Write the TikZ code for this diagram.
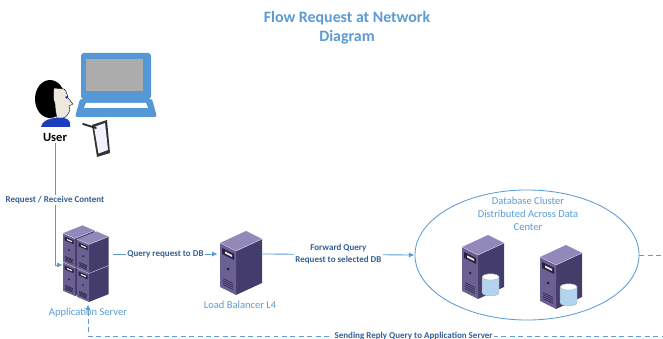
\documentclass[tikz,border=0pt]{standalone}
\usepackage{fontspec}
\setmainfont{Carlito}
\usetikzlibrary{positioning,shapes.geometric,arrows.meta,calc}

\definecolor{lineblue}{RGB}{91,155,213}
\definecolor{textblue}{RGB}{52,96,148}
\definecolor{lapblue}{RGB}{86,152,214}
\definecolor{skin}{RGB}{238,232,220}
\definecolor{shirt}{RGB}{30,60,190}
\definecolor{srvfront}{RGB}{106,96,146}
\definecolor{srvside}{RGB}{68,60,106}
\definecolor{srvtop}{RGB}{146,136,186}
\definecolor{srvdark}{RGB}{40,34,64}
\definecolor{dbfill}{RGB}{178,212,238}

\tikzset{
  tower/.pic={
    \fill[srvside] (0,0) -- (26,-12) -- (26,-56) -- (0,-44) -- cycle;
    \fill[srvfront] (0,0) -- (-16,-8) -- (-16,-52) -- (0,-44) -- cycle;
    \fill[srvtop] (0,-44) -- (-16,-52) -- (10,-64) -- (26,-56) -- cycle;
    \draw[white!60!srvtop, line width=0.3pt] (-16,-52) -- (0,-44) -- (26,-56);
    \fill[srvdark] (-2,-35) -- (-14,-41) -- (-14,-47) -- (-2,-41) -- cycle;
    \fill[white!85!srvfront] (-4,-38) -- (-11,-41.5) -- (-11,-43.5) -- (-4,-40) -- cycle;
    \fill[srvdark] (-8,-26) circle (1.5);
    \foreach \v in {4,6,8,10}
      \draw[srvdark, line width=0.4pt] (-3,{-1.5-\v}) -- (-13,{-6.5-\v});
  },
  dbase/.pic={
    \pic {tower};
    \filldraw[fill=dbfill, draw=gray!60, line width=0.3pt] (4,-21) -- (4,-6)
      arc[start angle=180, end angle=0, x radius=8, y radius=3] -- (20,-21) -- cycle;
    \filldraw[fill=white, draw=gray!60, line width=0.3pt] (12,-21) ellipse [x radius=8, y radius=3];
  }
}

\begin{document}
\begin{tikzpicture}[x=0.025cm, y=-0.025cm,
    flow/.style={draw=lineblue, line width=0.6pt, -{Latex[length=4pt,width=3.5pt]}},
    reply/.style={flow, dash pattern=on 3.5pt off 2.5pt},
    srv/.style={inner sep=0pt},
    srvname/.style={text=lineblue, font=\fontsize{7.5}{9}\selectfont, inner sep=1pt},
    lbl/.style={text=textblue, fill=white, font=\bfseries\fontsize{6.4}{8.5}\selectfont, inner sep=1pt, align=center}]
  \useasboundingbox (0,0) rectangle (663,339);

  \node[text=lineblue, font=\bfseries\fontsize{11.3}{13.5}\selectfont, align=center] (title) at (347,28) {Flow Request at Network\\Diagram};

  % user with laptop and tablet
  \fill[black] (50,99) ellipse [x radius=15, y radius=19];
  \filldraw[fill=skin, draw=black, line width=0.3pt] (54,88) -- (64,89) .. controls (67,91) and (67,95) .. (68,98)
    -- (73,104) -- (69,106) -- (70,110) .. controls (68,114) and (67,117) .. (63,118) -- (57,118)
    .. controls (56,114) and (55,108) .. (55,104) .. controls (53,100) and (53,93) .. (54,88) -- cycle;
  \fill[blue!80!black] (65,97) -- (68,96) -- (67,99) -- cycle;
  \fill[shirt] (41,127) .. controls (42,121) and (48,119) .. (54,118) -- (64,118) .. controls (69,119) and (71,122) .. (70,127) -- cycle;
  \fill[lapblue, rounded corners=2] (81,53) rectangle (151,99);
  \fill[gray!65] (86,59) rectangle (143,91);
  \fill[lapblue, rounded corners=1.5] (80,99) -- (152,99) -- (157,117) -- (75,117) -- cycle;
  \fill[white] (86,103) -- (146,103) -- (148,108) -- (84,108) -- cycle;
  \fill[gray!40!black] (92,125) -- (107,120) -- (110,153) -- (97,157) -- cycle;
  \fill[blue!5] (94,127) -- (105,123) -- (108,150) -- (98.5,153.5) -- cycle;
  \draw[line width=1.3pt, gray!30!black, line cap=round] (83,124) -- (96,128);
  \node[font=\bfseries\fontsize{8.9}{10}\selectfont, inner sep=1pt] (user) at (55,137) {User};

  % servers
  \pic[xscale=0.75, yscale=0.65] at (75,296) {tower};
  \pic[xscale=0.75, yscale=0.65] at (75,267) {tower};
  \pic[xscale=0.75, yscale=0.65] at (89,302) {tower};
  \pic[xscale=0.75, yscale=0.65] at (89,273) {tower};
  \node[srv, minimum width=1.25cm, minimum height=1.95cm] (app) at (88,265) {};
  \node[srvname, below=0.05cm of app] (applbl) {Application Server};

  \pic at (236,295) {tower};
  \node[srv, minimum width=1.1cm, minimum height=2.05cm] (lb) at (240,254) {};
  \node[srvname, below=0.1cm of lb] (lblbl) {Load Balancer L4};

  \node[draw=lineblue, line width=0.6pt, ellipse, minimum width=5.6cm, minimum height=3.25cm] (db) at (527,255) {};
  \node[srvname, align=center, font=\fontsize{7.5}{9.5}\selectfont] (dblbl) at (528,214) {Database Cluster\\Distributed Across Data\\Center};
  \pic[scale=1.05] at (478,299) {dbase};
  \pic[scale=1.05] at (556,309) {dbase};

  \coordinate (back) at (680,336);

  \draw[flow] (user.south) -- node[lbl, pos=0.47] (reqlbl) {Request / Receive Content} (user.south |- app.west) -- (app.west);
  \draw[flow] (app.east |- lb.west) -- node[lbl] (querylbl) {Query request to DB} (lb.west);
  \draw[flow] (lb.east) -- node[lbl] (fwdlbl) {Forward Query\\Request to selected DB} (db.west);
  \draw[reply] (db.east) -- (db.east -| back) -- (back)
    -- node[lbl, pos=0.45] (replylbl) {Sending Reply Query to Application Server} (back -| app.south) -- (app.south);
\end{tikzpicture}
\end{document}
